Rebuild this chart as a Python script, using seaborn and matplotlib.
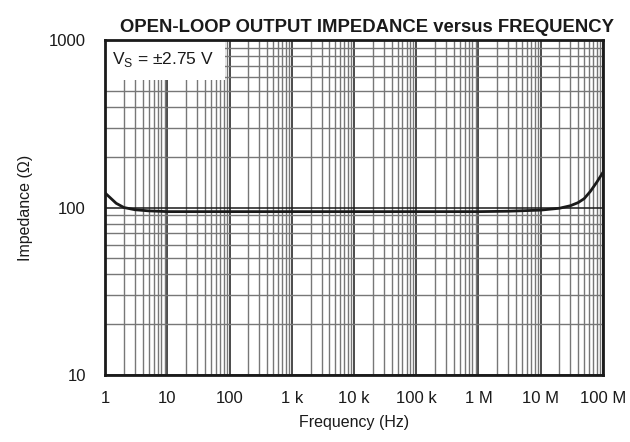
import matplotlib
matplotlib.use("Agg")
import matplotlib.pyplot as plt
import pandas as pd
import seaborn as sns

freq_hz = [1, 1.5, 2, 3, 5, 10, 100, 1e3, 1e4, 1e5, 1e6, 3e6, 1e7, 2e7, 3e7, 4e7, 5e7, 6.3e7, 8e7, 1e8]
impedance_ohm = [122, 106, 100, 97, 95.5, 94.5, 94.5, 94.5, 94.5, 94.5, 94.5, 95, 96.5, 99, 102.5, 107, 113, 125, 142, 162]

x_ticks = [1, 10, 100, 1e3, 1e4, 1e5, 1e6, 1e7, 1e8]
x_labels = ["1", "10", "100", "1 k", "10 k", "100 k", "1 M", "10 M", "100 M"]
y_ticks = [10, 100, 1000]
y_labels = ["10", "100", "1000"]

sns.set_theme(style="white")
plt.rcParams["font.family"] = ["Liberation Sans", "DejaVu Sans"]

df = pd.DataFrame({"freq": freq_hz, "imp": impedance_ohm})

fig, ax = plt.subplots(figsize=(6.3, 4.42), dpi=100)
fig.subplots_adjust(left=0.167, right=0.957, top=0.909, bottom=0.152)

ax.set_xscale("log")
ax.set_yscale("log")
ax.set_xlim(1, 1e8)
ax.set_ylim(10, 1000)

ax.grid(which="major", color="#1a1a1a", linewidth=1.1)
ax.grid(which="minor", color="#777777", linewidth=1.0)
ax.set_axisbelow(True)

sns.lineplot(data=df, x="freq", y="imp", ax=ax, color="#1a1a1a", linewidth=2.0)

ax.set_xticks(x_ticks)
ax.set_xticklabels(x_labels)
ax.set_yticks(y_ticks)
ax.set_yticklabels(y_labels)
ax.tick_params(axis="both", which="both", length=0, labelsize=12, colors="#1a1a1a")
ax.tick_params(axis="x", pad=12)
ax.tick_params(axis="y", pad=14)

for spine in ax.spines.values():
    spine.set_color("#1a1a1a")
    spine.set_linewidth(2)

ax.set_xlabel("Frequency (Hz)", fontsize=11.5, color="#1a1a1a", labelpad=6)
ax.set_ylabel("Impedance (Ω)", fontsize=11.5, color="#1a1a1a", labelpad=11)
ax.set_title("OPEN-LOOP OUTPUT IMPEDANCE versus FREQUENCY", fontsize=13.3,
             fontweight="bold", color="#1a1a1a", x=0.525, pad=6)

ax.text(0.013, 0.972, "V$_\\mathregular{S}$ = ±2.75 V", transform=ax.transAxes,
        ha="left", va="top", fontsize=12.5, color="#1a1a1a", zorder=2.4,
        bbox=dict(facecolor="white", edgecolor="none", pad=8))

fig.savefig("out.png", dpi=100)
